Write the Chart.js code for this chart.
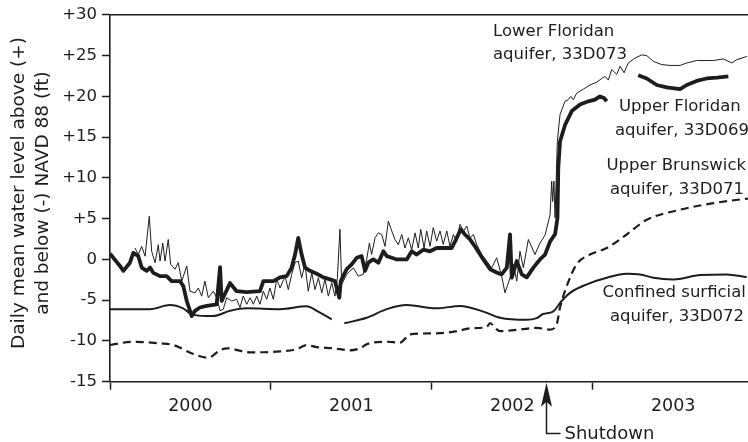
<!DOCTYPE html>
<html>
<head>
<meta charset="utf-8">
<script src="https://cdn.jsdelivr.net/npm/chart.js@4.4.0/dist/chart.umd.min.js"></script>
<style>
  html, body { margin: 0; padding: 0; background: #fff; }
  #wrap { width: 748px; height: 442px; position: relative; }
</style>
</head>
<body>
<div id="wrap"><canvas id="levels"></canvas></div>
<script>
// --- data read off the hydrographs (decimal years, feet) ---
// null = break in the record

// Upper Floridan aquifer, 33D069 (heavy line)
const upperFloridanYears = [
  2000.000, 2000.062, 2000.083, 2000.124, 2000.145, 2000.176, 2000.197, 2000.228, 2000.249, 2000.269,
  2000.311, 2000.352, 2000.383, 2000.435, 2000.456, 2000.477, 2000.508, 2000.528, 2000.559, 2000.601,
  2000.663, 2000.684, 2000.694, 2000.746, 2000.787, 2000.850, 2000.932, 2000.953, 2001.015, 2001.057,
  2001.098, 2001.129, 2001.150, 2001.170, 2001.191, 2001.212, 2001.243, 2001.285, 2001.326, 2001.367,
  2001.398, 2001.425, 2001.434, 2001.471, 2001.502, 2001.533, 2001.564, 2001.585, 2001.605, 2001.636,
  2001.668, 2001.699, 2001.720, 2001.751, 2001.782, 2001.844, 2001.875, 2001.906, 2001.947, 2001.989,
  2002.030, 2002.071, 2002.124, 2002.155, 2002.180, 2002.206, 2002.237, 2002.268, 2002.320, 2002.362,
  2002.403, 2002.434, 2002.466, 2002.486, 2002.497, 2002.528, 2002.559, 2002.590, 2002.631, 2002.672,
  2002.704, 2002.735, 2002.766, 2002.781, 2002.786, 2002.797, 2002.828, 2002.870, 2002.921, 2002.973,
  2003.014, 2003.045, 2003.070, 2003.087, 2003.180, 2003.283, 2003.336, 2003.398, 2003.460, 2003.543,
  2003.584, 2003.646, 2003.708, 2003.771, 2003.843
];
const upperFloridanLevels = [
  0.7, -0.8, -1.4, -0.4, 0.8, 0.4, -1.0, -1.4, -1.0, -1.65,
  -2.05, -2.05, -2.66, -2.66, -3.3, -5.1, -6.95, -6.3, -5.9, -5.7,
  -5.5, -0.95, -5.1, -2.9, -3.9, -4.0, -3.9, -2.66, -2.66, -2.2,
  -2.05, -1.0, 0.6, 2.65, 0.6, -1.0, -1.4, -1.76, -2.2, -2.45,
  -2.66, -4.7, -2.66, -1.2, -0.6, 0.2, 0.4, -1.4, -0.4, 0.0,
  -0.4, 1.0, 0.4, 0.2, 0.0, 0.0, 1.0, 0.6, 1.2, 1.0,
  1.4, 1.4, 1.4, 2.65, 3.7, 3.06, 2.45, 1.6, 0.0, -1.2,
  -1.6, -1.84, -1.0, 3.06, -2.25, -0.2, -1.84, -2.2, -1.0, 0.0,
  0.6, 2.2, 3.1, 5.1, 11.2, 14.5, 16.5, 18.2, 19.0, 19.4,
  19.6, 20.0, 19.8, 19.4, null, 22.6, 22.2, 21.4, 21.1, 20.9,
  21.4, 21.9, 22.2, 22.3, 22.45
];

// Lower Floridan aquifer, 33D073 (light line)
const lowerFloridanYears = [
  2000.155, 2000.176, 2000.197, 2000.218, 2000.244, 2000.259, 2000.280, 2000.300, 2000.311, 2000.328,
  2000.342, 2000.362, 2000.377, 2000.404, 2000.424, 2000.446, 2000.477, 2000.497, 2000.528, 2000.549,
  2000.570, 2000.590, 2000.611, 2000.642, 2000.663, 2000.684, 2000.704, 2000.725, 2000.756, 2000.787,
  2000.808, 2000.828, 2000.850, 2000.870, 2000.891, 2000.912, 2000.932, 2000.953, 2000.974, 2000.994,
  2001.015, 2001.036, 2001.057, 2001.088, 2001.108, 2001.129, 2001.150, 2001.170, 2001.191, 2001.212,
  2001.232, 2001.254, 2001.274, 2001.295, 2001.316, 2001.336, 2001.357, 2001.378, 2001.398, 2001.413,
  2001.429, 2001.440, 2001.471, 2001.512, 2001.543, 2001.574, 2001.595, 2001.612, 2001.626, 2001.647,
  2001.668, 2001.689, 2001.709, 2001.730, 2001.751, 2001.771, 2001.792, 2001.813, 2001.833, 2001.854,
  2001.875, 2001.896, 2001.916, 2001.931, 2001.952, 2001.968, 2001.989, 2002.009, 2002.030, 2002.051,
  2002.071, 2002.093, 2002.113, 2002.134, 2002.155, 2002.175, 2002.196, 2002.217, 2002.237, 2002.258,
  2002.279, 2002.310, 2002.341, 2002.372, 2002.403, 2002.434, 2002.455, 2002.486, 2002.507, 2002.528,
  2002.548, 2002.569, 2002.600, 2002.641, 2002.672, 2002.704, 2002.735, 2002.745, 2002.751, 2002.759,
  2002.766, 2002.780, 2002.797, 2002.828, 2002.848, 2002.863, 2002.879, 2002.901, 2002.942, 2002.983,
  2003.025, 2003.056, 2003.076, 2003.097, 2003.118, 2003.149, 2003.170, 2003.195, 2003.221, 2003.263,
  2003.305, 2003.336, 2003.377, 2003.429, 2003.480, 2003.543, 2003.584, 2003.646, 2003.750, 2003.812,
  2003.864, 2003.895, 2003.957
];
const lowerFloridanLevels = [
  1.4, 0.6, 1.6, 0.4, 5.3, 1.0, -0.4, 1.8, -0.2, 2.0,
  -0.2, 2.45, -0.6, -1.2, -0.4, -2.66, -0.8, -3.9, -4.1, -3.5,
  -4.5, -2.66, -4.7, -3.9, -4.7, -6.3, -6.1, -4.7, -5.1, -4.9,
  -5.9, -4.5, -5.5, -4.7, -5.5, -4.5, -5.5, -3.9, -4.9, -3.5,
  -4.9, -2.45, -3.5, -2.05, -3.7, -1.84, -0.4, -0.2, -2.25, -0.6,
  -3.9, -1.64, -3.7, -2.25, -4.1, -2.45, -4.5, -2.87, -4.5, -2.25,
  3.7, -3.06, -1.84, -1.03, -2.05, -1.84, 0.0, 2.0, 0.6, 2.65,
  3.26, 3.06, 1.6, 4.7, 3.5, 2.45, 1.8, 3.06, 1.4, 2.65,
  1.2, 3.26, 1.4, 3.7, 1.4, 3.5, 1.6, 3.9, 2.24, 3.5,
  1.84, 3.5, 1.6, 3.06, 2.24, 4.3, 3.47, 4.1, 2.65, 3.06,
  1.84, 0.6, -0.2, -1.03, 0.2, -2.05, -4.1, -2.25, -0.6, -2.66,
  1.0, -1.03, 2.45, 0.6, 2.0, 3.0, 5.5, 9.6, 7.1, 9.6,
  5.1, 14.5, 17.8, 19.4, 19.6, 20.0, 19.6, 20.4, 20.9, 21.4,
  21.75, 22.2, 22.45, 22.0, 23.3, 22.7, 23.7, 22.9, 24.1, 24.7,
  25.1, 25.0, 24.3, 23.9, 23.8, 23.8, 24.1, 24.4, 24.4, 24.6,
  24.1, 24.5, 24.9
];

// Upper Brunswick aquifer, 33D071 (dashed)
const brunswickYears = [
  2000.000, 2000.145, 2000.311, 2000.393, 2000.518, 2000.611, 2000.684, 2000.725, 2000.870, 2001.036,
  2001.160, 2001.222, 2001.285, 2001.388, 2001.492, 2001.554, 2001.595, 2001.720, 2001.802, 2001.865,
  2002.030, 2002.155, 2002.237, 2002.341, 2002.362, 2002.393, 2002.424, 2002.548, 2002.652, 2002.735,
  2002.776, 2002.797, 2002.838, 2002.900, 2002.983, 2003.087, 2003.211, 2003.330, 2003.543, 2003.750,
  2003.915, 2003.965
];
const brunswickLevels = [
  -10.5, -10.1, -10.3, -10.5, -11.6, -12.05, -11.15, -10.9, -11.4, -11.3,
  -11.0, -10.5, -10.75, -10.9, -11.15, -10.9, -10.4, -10.1, -10.2, -9.2,
  -9.06, -8.8, -8.45, -8.3, -7.8, -8.4, -8.8, -8.6, -8.4, -8.6,
  -7.96, -5.9, -3.3, -0.6, 0.6, 1.4, 3.06, 4.8, 6.1, 6.9,
  7.35, 7.45
];

// Confined surficial aquifer, 33D072 (medium line)
const surficialYears = [
  2000.000, 2000.249, 2000.373, 2000.454, 2000.516, 2000.640, 2000.746, 2000.851, 2001.057, 2001.222,
  2001.285, 2001.378, 2001.417, 2001.456, 2001.595, 2001.720, 2001.844, 2002.030, 2002.175, 2002.320,
  2002.424, 2002.590, 2002.652, 2002.691, 2002.753, 2002.807, 2002.859, 2002.963, 2003.087, 2003.211,
  2003.294, 2003.377, 2003.501, 2003.667, 2003.833, 2003.957
];
const surficialLevels = [
  -6.1, -6.1, -5.6, -6.0, -6.8, -6.95, -6.3, -6.0, -6.1, -5.75,
  -6.3, -7.35, null, -7.84, -7.15, -6.1, -5.6, -6.0, -5.7, -6.4,
  -7.15, -7.4, -7.2, -6.7, -6.4, -5.1, -4.1, -3.06, -2.25, -1.76,
  -1.84, -2.25, -2.45, -1.92, -1.84, -2.17
];

const yearLabels = ['2000', '2001', '2002', '2003'];
const levelTicks = [-15, -10, -5, 0, 5, 10, 15, 20, 25, 30];
const shutdownYear = 2002.707;

const INK = '#1d1d1d';
const FONT = '"DejaVu Sans", "Liberation Sans", sans-serif';

function toPoints(years, levels) {
  return years.map((x, i) => ({ x: x, y: levels[i] }));
}

// --- text and arrow drawn on top of the plot ---
const notes = {
  id: 'notes',
  afterDraw(chart) {
    const ctx = chart.ctx;
    const xs = chart.scales.x;
    const area = chart.chartArea;
    ctx.save();
    ctx.fillStyle = INK;
    ctx.strokeStyle = INK;

    // series labels
    ctx.font = '16.5px ' + FONT;
    ctx.textAlign = 'left';
    ctx.textBaseline = 'alphabetic';
    [
      ['Lower Floridan', 493, 35.5],
      ['aquifer, 33D073', 493, 59],
      ['Upper Floridan', 619, 110.5],
      ['aquifer, 33D069', 615, 134.5],
      ['Upper Brunswick', 606.5, 170],
      ['aquifer, 33D071', 610, 194],
      ['Confined surficial', 602.5, 297],
      ['aquifer, 33D072', 610, 320.5]
    ].forEach(t => ctx.fillText(t[0], t[1], t[2]));

    // y axis title, two rotated lines
    ctx.font = '18.5px ' + FONT;
    ctx.textAlign = 'center';
    ctx.save();
    ctx.translate(0, 193);
    ctx.rotate(-Math.PI / 2);
    ctx.fillText('Daily mean water level above (+)', 0, 24);
    ctx.fillText('and below (-) NAVD 88 (ft)', 0, 48);
    ctx.restore();

    // shutdown arrow
    const sx = Math.round(xs.getPixelForValue(shutdownYear)) + 0.5;
    const base = area.bottom;
    ctx.lineWidth = 1.5;
    ctx.beginPath();
    ctx.moveTo(sx, base + 18);
    ctx.lineTo(sx, 433.5);
    ctx.lineTo(sx + 14, 433.5);
    ctx.stroke();
    ctx.beginPath();
    ctx.moveTo(sx, base + 1);
    ctx.lineTo(sx - 5.5, base + 25);
    ctx.lineTo(sx, base + 20);
    ctx.lineTo(sx + 5.5, base + 25);
    ctx.closePath();
    ctx.fill();

    ctx.font = '18px ' + FONT;
    ctx.textAlign = 'left';
    ctx.fillText('Shutdown', sx + 18, 439);
    ctx.restore();
  }
};

const ctx = document.getElementById('levels').getContext('2d');

new Chart(ctx, {
  type: 'line',
  data: {
    datasets: [
      {
        label: 'Upper Floridan aquifer, 33D069',
        data: toPoints(upperFloridanYears, upperFloridanLevels),
        borderColor: INK,
        borderWidth: 3.8,
        borderJoinStyle: 'round',
        pointRadius: 0,
        tension: 0,
        spanGaps: false
      },
      {
        label: 'Lower Floridan aquifer, 33D073',
        data: toPoints(lowerFloridanYears, lowerFloridanLevels),
        borderColor: INK,
        borderWidth: 1,
        pointRadius: 0,
        tension: 0
      },
      {
        label: 'Upper Brunswick aquifer, 33D071',
        data: toPoints(brunswickYears, brunswickLevels),
        borderColor: INK,
        borderWidth: 2.2,
        borderDash: [8, 5],
        pointRadius: 0,
        cubicInterpolationMode: 'monotone'
      },
      {
        label: 'Confined surficial aquifer, 33D072',
        data: toPoints(surficialYears, surficialLevels),
        borderColor: INK,
        borderWidth: 2,
        pointRadius: 0,
        cubicInterpolationMode: 'monotone',
        spanGaps: false
      }
    ]
  },
  options: {
    responsive: true,
    maintainAspectRatio: false,
    animation: false,
    devicePixelRatio: 1,
    layout: { padding: { top: 13.7, right: 0, bottom: 0, left: 0 } },
    plugins: {
      legend: { display: false },
      tooltip: { enabled: false }
    },
    scales: {
      x: {
        type: 'linear',
        position: 'bottom',
        min: 2000,
        max: 2003.965,
        afterBuildTicks: (scale) => {
          const t = [];
          yearLabels.forEach((y, i) => {
            t.push({ value: 2000 + i });
            t.push({ value: 2000.5 + i });
          });
          scale.ticks = t;
        },
        afterFit: (scale) => { scale.height = 60.3; },
        ticks: {
          autoSkip: false,
          maxRotation: 0,
          padding: 6,
          color: INK,
          font: { family: FONT, size: 17.5 },
          callback: (v) => Number.isInteger(v) ? '' : yearLabels[Math.floor(v) - 2000]
        },
        grid: {
          display: true,
          drawOnChartArea: false,
          drawTicks: true,
          tickLength: 8,
          tickWidth: 1.5,
          tickColor: (c) => (c.tick && Number.isInteger(c.tick.value)) ? INK : 'rgba(0,0,0,0)'
        },
        border: { display: true, color: INK, width: 1.6 }
      },
      top: {
        type: 'linear',
        position: 'top',
        min: 2000,
        max: 2003.965,
        afterFit: (scale) => { scale.height = 0; },
        ticks: { display: false },
        grid: { display: false },
        border: { display: true, color: INK, width: 1.6 }
      },
      y: {
        min: -15,
        max: 30,
        afterBuildTicks: (scale) => { scale.ticks = levelTicks.map(v => ({ value: v })); },
        afterFit: (scale) => { scale.width = 110; },
        ticks: {
          padding: 5,
          color: INK,
          font: { family: FONT, size: 16.5 },
          callback: (v) => v > 0 ? '+' + v : String(v)
        },
        grid: {
          display: true,
          drawOnChartArea: false,
          drawTicks: true,
          tickLength: 8,
          tickWidth: 1.5,
          tickColor: INK
        },
        border: { display: true, color: INK, width: 1.6 }
      }
    }
  },
  plugins: [notes]
});
</script>
</body>
</html>
